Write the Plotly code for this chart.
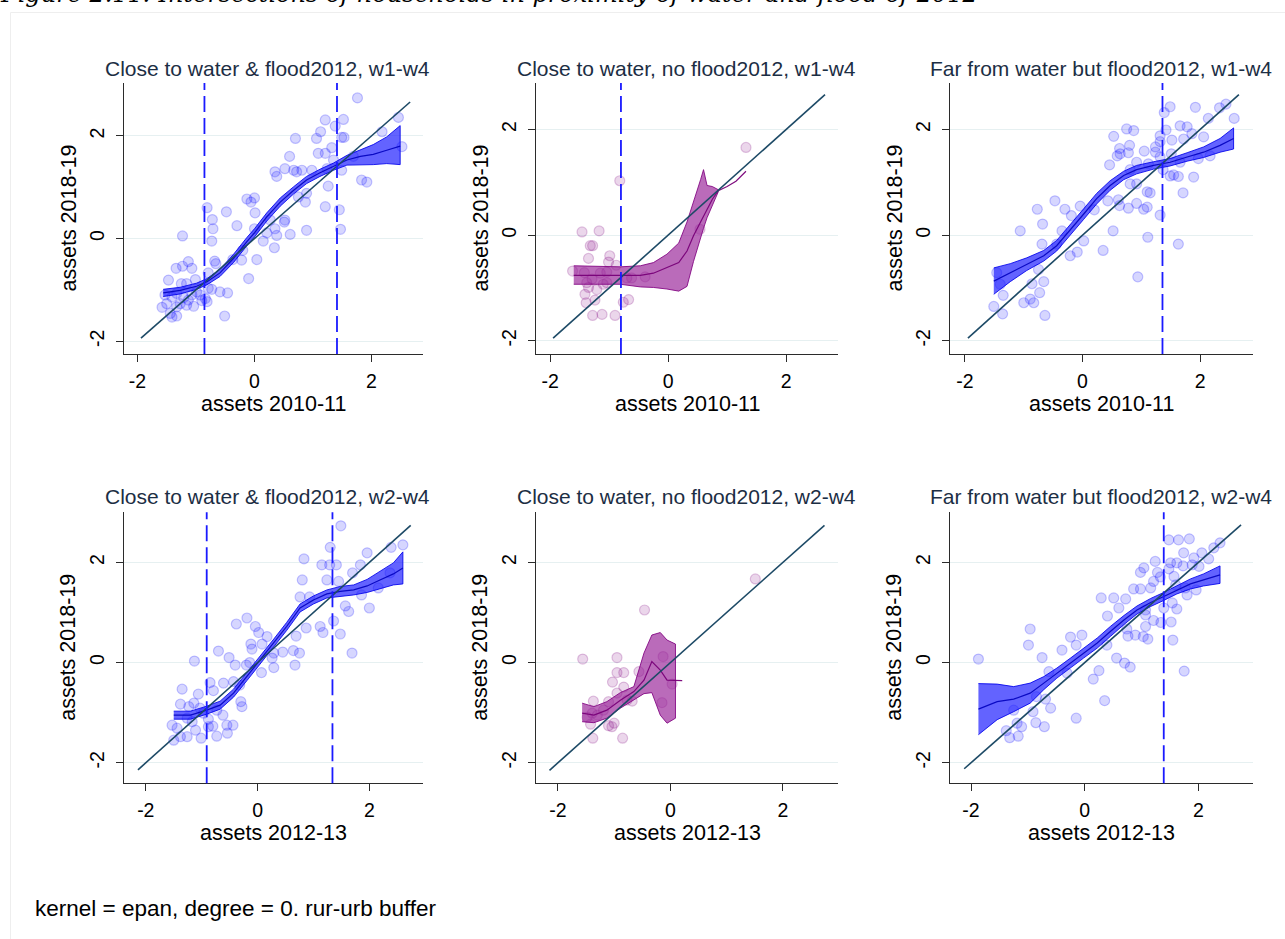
import plotly.graph_objects as go

W, H = 1285, 939

# ---------------- data ----------------
titles = ["Close to water & flood2012, w1-w4", "Close to water, no flood2012, w1-w4",
          "Far from water but flood2012, w1-w4", "Close to water & flood2012, w2-w4",
          "Close to water, no flood2012, w2-w4", "Far from water but flood2012, w2-w4"]
x_titles = ["assets 2010-11"] * 3 + ["assets 2012-13"] * 3
y_title = "assets 2018-19"
tick_vals = [-2, 0, 2]
tick_text = ["-2", "0", "2"]
note_text = "kernel = epan, degree = 0. rur-urb buffer"
caption_text = "Figure 2.11: Intersections of households in proximity of water and flood of 2012"

# panel 1
p1_x = [1.76, 1.21, 1.38, 1.52, 2.46, 1.13, 1.06, 0.70, 2.18, 1.49, 1.53, 0.60, 1.09, 1.21, 1.32, 1.35, 2.52, 1.69,
        0.35, 0.38, 0.52, 0.67, 0.72, 0.81, 0.98, 1.24, 1.49, 1.83, 1.92, 1.26, 1.21, 1.45, 1.47, 0.89, 0.87, 0.75,
        0.89, -0.13, 0.0, -0.06, 0.01, 0.0, -0.81, -0.72, -0.71, -0.73, -0.48, -0.30, 0.27, 0.38, 0.35, 0.52, 0.51,
        0.61, 0.15, 0.34, 0.21, 0.04, -0.10, -0.20, -0.22, -0.37, -0.68, -0.66, -1.23, -1.34, -1.23, -1.13, -1.07,
        -1.47, -1.25, -1.16, -1.01, -0.79, -1.53, -1.41, -1.33, -1.21, -1.07, -0.99, -0.84, -0.81, -0.73, -0.59,
        -0.46, -1.58, -1.44, -1.33, -1.50, -1.16, -1.04, -0.90, -0.51, -1.33, -1.41, -1.27, -1.13, -0.93, -0.79]
p1_y = [2.74, 2.31, 2.19, 2.32, 2.36, 2.08, 1.95, 1.95, 2.08, 1.97, 1.97, 1.60, 1.66, 1.66, 1.77, 1.53, 1.79, 1.60,
        1.30, 1.21, 1.36, 1.33, 1.30, 1.33, 1.33, 1.36, 1.33, 1.14, 1.10, 1.02, 0.62, 0.56, 0.18, 0.16, 0.71, 0.81,
        0.88, 0.77, 0.79, 0.71, 0.50, 0.19, 0.60, 0.37, 0.19, -0.05, 0.52, 0.25, 0.36, 0.06, 0.19, 0.36, 0.32,
        0.08, -0.05, -0.18, 0.11, -0.41, -0.78, -0.23, -0.42, -0.41, -0.44, -0.49, 0.05, -0.58, -0.54, -0.45, -0.58,
        -0.81, -0.88, -0.88, -0.80, -0.67, -1.10, -1.14, -1.07, -1.15, -1.10, -1.04, -1.17, -1.23, -0.99, -1.04,
        -1.06, -1.34, -1.46, -1.51, -1.27, -1.30, -1.32, -1.21, -1.51, -1.33, -1.53, -1.27, -1.20, -1.10, -0.97]
p1_band_x = [-1.56, -1.27, -0.99, -0.81, -0.59, -0.36, -0.13, 0.0, 0.21, 0.44, 0.67, 0.89, 1.12, 1.35, 1.58, 1.81,
             2.03, 2.26, 2.49]
p1_fit = [-1.06, -1.01, -0.93, -0.84, -0.67, -0.39, -0.06, 0.11, 0.42, 0.71, 0.94, 1.14, 1.28, 1.40, 1.53, 1.60,
          1.64, 1.72, 1.80]
p1_hi = [-0.99, -0.95, -0.87, -0.78, -0.60, -0.31, 0.02, 0.19, 0.50, 0.79, 1.01, 1.21, 1.35, 1.47, 1.62, 1.73,
         1.83, 1.98, 2.20]
p1_lo = [-1.13, -1.08, -0.99, -0.90, -0.74, -0.47, -0.14, 0.03, 0.34, 0.63, 0.87, 1.07, 1.21, 1.33, 1.43, 1.44,
         1.44, 1.46, 1.44]
p1_vlines = [-0.855, 1.41]
p1_diag = [-1.94, 2.66]

# panel 2
p2_x = [1.32, -0.82, 0.54, -1.46, -1.17, -1.32, -1.28, -0.99, -1.35, -1.01, -0.88, -1.62, -1.42, -1.15, -1.04,
        -0.70, -0.62, -0.39, -1.38, -1.35, -1.21, -1.10, -1.41, -1.39, -1.24, -0.76, -0.67, -1.28, -1.12, -0.90,
        -1.04, -1.29]
p2_y = [1.66, 1.03, 0.11, 0.06, 0.08, -0.20, -0.20, -0.39, -0.44, -0.51, -0.57, -0.68, -0.71, -0.72, -0.70,
        -0.81, -0.81, -0.79, -0.90, -0.99, -1.03, -0.93, -1.12, -1.28, -1.23, -1.27, -1.22, -1.52, -1.50, -1.52,
        -0.90, -0.83]
p2_band_x = [-1.60, -1.20, -0.81, -0.47, -0.25, -0.02, 0.18, 0.32, 0.43, 0.55, 0.60, 0.66, 0.75, 0.85]
p2_hi = [-0.58, -0.59, -0.60, -0.58, -0.52, -0.36, -0.15, 0.25, 0.62, 1.05, 1.24, 0.94, 0.92, 0.86]
p2_lo = [-0.93, -0.93, -0.93, -0.98, -0.99, -1.02, -1.06, -0.97, -0.50, -0.05, 0.13, 0.33, 0.55, 0.82]
p2_fit_x = [-1.60, -1.20, -0.81, -0.47, -0.25, -0.02, 0.18, 0.32, 0.43, 0.55, 0.66, 0.75, 0.85, 1.0, 1.15, 1.32]
p2_fit = [-0.76, -0.76, -0.77, -0.76, -0.72, -0.62, -0.52, -0.30, -0.01, 0.25, 0.50, 0.68, 0.84, 0.92, 1.02, 1.21]
p2_vlines = [-0.80]
p2_diag = [-1.95, 2.66]

# panel 3
p3_x = [1.49, 1.92, 2.44, 2.33, 1.39, 2.14, 2.58, 0.75, 0.87, 1.42, 1.66, 1.78, 1.86, 0.53, 1.32, 2.06, 1.52, 1.72,
        1.32, 0.80, 0.63, 1.24, 1.05, 1.24, 0.64, 0.59, 0.78, 0.92, 1.12, 1.32, 1.51, 1.66, 1.97, 2.17, 0.46, 0.81,
        1.37, 1.55, 1.49, 1.63, 1.89, 0.92, 0.81, 1.10, 1.15, 1.71, 0.43, 0.61, 0.63, 0.92, 0.78, 1.10, 1.04, 1.32,
        -0.47, -0.30, -0.19, -0.04, 0.20, -0.77, -0.68, -1.06, -0.35, 0.02, 0.52, 1.11, -0.09, 0.35, 1.63, -0.69,
        -0.75, -0.66, -0.86, -0.89, -1.00, -0.83, -0.73, 0.94, -1.35, -1.51, -1.36, -0.64, -1.46, -1.40, -0.21,
        -0.44]
p3_y = [2.43, 2.42, 2.48, 2.41, 2.32, 2.21, 2.21, 2.01, 1.98, 1.99, 2.07, 2.05, 1.92, 1.87, 1.88, 1.86, 1.80, 1.82,
        1.77, 1.70, 1.64, 1.67, 1.59, 1.57, 1.54, 1.50, 1.56, 1.38, 1.35, 1.48, 1.54, 1.38, 1.45, 1.50, 1.33, 1.24,
        1.24, 1.14, 1.12, 1.11, 1.10, 0.97, 0.97, 0.82, 0.80, 0.80, 0.65, 0.67, 0.56, 0.60, 0.51, 0.53, 0.49, 0.38,
        0.65, 0.49, 0.37, 0.55, 0.48, 0.49, 0.21, 0.08, 0.08, -0.11, 0.08, -0.04, -0.32, -0.29, -0.17, -0.17,
        -0.65, -0.88, -0.92, -1.21, -1.28, -1.28, -1.09, -0.79, -1.14, -1.35, -1.49, -1.52, -0.71, -0.93, -0.39,
        -0.17]
p3_band_x = [-1.51, -1.23, -0.95, -0.66, -0.44, -0.21, 0.02, 0.24, 0.47, 0.70, 0.92, 1.21, 1.49, 1.78, 2.06, 2.34,
             2.57]
p3_fit = [-0.87, -0.71, -0.55, -0.39, -0.20, 0.11, 0.40, 0.69, 0.94, 1.13, 1.24, 1.32, 1.38, 1.48, 1.57, 1.70, 1.83]
p3_hi = [-0.62, -0.54, -0.43, -0.29, -0.10, 0.21, 0.50, 0.79, 1.03, 1.21, 1.32, 1.39, 1.45, 1.56, 1.67, 1.83, 2.03]
p3_lo = [-1.12, -0.88, -0.67, -0.49, -0.30, 0.01, 0.30, 0.59, 0.85, 1.05, 1.16, 1.25, 1.31, 1.40, 1.47, 1.57, 1.63]
p3_vlines = [1.36]
p3_diag = [-1.95, 2.66]

# panel 4
p4_x = [1.49, 1.30, 2.60, 2.39, 1.96, 0.83, 1.15, 1.29, 1.41, 1.84, 1.70, 2.37, 0.80, 1.24, 1.45, 2.16, 0.76, 0.93,
        1.86, 1.57, 1.63, 2.00, -0.19, -0.38, -0.04, 0.02, 0.17, 0.08, -0.12, -0.10, 1.12, 1.17, 0.87, 1.36, 1.48,
        1.69, 0.69, 0.64, 0.75, 0.67, 0.29, 0.45, 0.26, 0.29, 0.07, -0.70, -0.51, -0.40, -0.20, -0.14, -1.13,
        -0.61, -0.43, -0.32, -0.30, -0.28, -0.85, -0.79, -1.06, -1.35, -1.38, -1.23, -1.14, -1.03, -0.73, -0.62,
        -1.53, -1.44, -1.38, -1.26, -1.11, -1.01, -0.88, -0.80, -0.73, -0.55, -0.54, -0.44, -1.50, -1.17, -1.26,
        -0.88, -0.97]
p4_y = [2.73, 2.30, 2.35, 2.30, 2.19, 2.07, 1.95, 1.95, 1.95, 1.95, 1.79, 1.79, 1.65, 1.65, 1.62, 1.49, 1.31, 1.31,
        1.35, 1.13, 1.02, 1.09, 0.89, 0.77, 0.72, 0.60, 0.52, 0.37, 0.37, 0.27, 0.72, 0.60, 0.69, 0.83, 0.57,
        0.19, 0.53, 0.24, 0.19, -0.05, 0.19, 0.21, 0.09, -0.10, -0.20, 0.23, 0.10, -0.05, -0.05, 0.0, 0.03,
        -0.41, -0.38, -0.45, -0.78, -0.88, -0.40, -0.56, -0.63, -0.53, -0.83, -0.88, -0.81, -0.91, -0.95, -1.05,
        -1.25, -1.31, -1.48, -1.48, -1.35, -1.51, -1.28, -1.27, -1.47, -1.25, -1.41, -1.25, -1.55, -1.18, -1.11,
        -1.13, -1.01]
p4_band_x = [-1.50, -1.20, -0.91, -0.67, -0.43, -0.19, 0.05, 0.29, 0.52, 0.76, 1.00, 1.24, 1.48, 1.72, 1.96, 2.19,
             2.43, 2.60]
p4_fit = [-1.05, -1.05, -0.95, -0.85, -0.61, -0.28, 0.05, 0.39, 0.72, 1.09, 1.25, 1.37, 1.42, 1.45, 1.53, 1.65,
          1.77, 1.89]
p4_hi = [-0.97, -0.97, -0.87, -0.77, -0.53, -0.20, 0.13, 0.47, 0.80, 1.17, 1.33, 1.45, 1.52, 1.55, 1.66, 1.82,
         1.99, 2.21]
p4_lo = [-1.13, -1.13, -1.03, -0.93, -0.69, -0.36, -0.03, 0.31, 0.64, 1.01, 1.17, 1.29, 1.32, 1.35, 1.40, 1.48,
         1.55, 1.57]
p4_vlines = [-0.91, 1.34]
p4_diag = [-2.14, 2.74]

# panel 5
p5_x = [1.51, -0.46, -1.56, -0.95, -0.13, -0.95, -0.83, -1.03, -0.83, -0.56, 0.03, -1.37, -1.10, -0.68, -0.15,
        -1.48, -1.39, -1.30, -1.42, -1.10, -1.04, -1.00, -1.38, -0.85, -1.19, -0.77, -0.95]
p5_y = [1.67, 1.05, 0.07, 0.10, 0.12, -0.20, -0.20, -0.39, -0.49, -0.18, -0.43, -0.77, -0.78, -0.77, -0.80,
        -1.09, -1.01, -1.05, -1.23, -1.26, -1.28, -1.21, -1.51, -1.51, -0.95, -0.75, -0.61]
p5_band_x = [-1.57, -1.36, -1.13, -0.89, -0.65, -0.47, -0.33, -0.18, -0.06, 0.09]
p5_hi = [-0.81, -0.88, -0.78, -0.60, -0.48, 0.19, 0.55, 0.60, 0.45, 0.37]
p5_lo = [-1.18, -1.20, -1.11, -0.91, -0.75, -0.62, -0.60, -1.05, -1.21, -1.11]
p5_fit_x = [-1.57, -1.36, -1.13, -0.89, -0.65, -0.47, -0.33, -0.18, -0.06, 0.09, 0.21]
p5_fit = [-1.01, -1.05, -0.95, -0.75, -0.58, -0.35, 0.02, -0.15, -0.35, -0.35, -0.36]
p5_vlines = []
p5_diag = [-2.15, 2.74]

# panel 6
p6_x = [1.48, 1.65, 1.84, 2.38, 2.27, 2.06, 1.74, 1.92, 2.18, 1.24, 1.51, 1.62, 1.89, 2.01, 1.04, 0.98, 1.28, 1.48,
        1.73, 1.33, 1.57, 1.21, 0.86, 0.98, 1.16, 1.60, 1.77, 1.96, 0.29, 0.51, 0.72, 1.80, 0.60, 1.07, 1.39, 1.54,
        1.62, 0.40, 1.07, 1.21, 1.34, 1.52, 1.07, 0.74, 0.89, 0.76, 1.03, 1.11, 1.55, -0.96, -0.99, -0.25, -0.05,
        -0.15, -0.40, 0.39, -0.75, -1.87, 0.56, 0.70, 0.80, 0.25, 0.15, 1.75, -0.31, -0.63, -0.69, -0.85, 0.35,
        -0.60, -0.91, -1.25, -0.15, -0.86, -0.71, -1.11, -1.19, -1.38, -1.32, -1.17]
p6_y = [2.45, 2.45, 2.47, 2.39, 2.29, 2.19, 2.19, 2.09, 2.07, 2.02, 1.99, 1.99, 1.95, 1.92, 1.89, 1.80, 1.80, 1.87,
        1.93, 1.71, 1.72, 1.62, 1.47, 1.47, 1.49, 1.55, 1.49, 1.45, 1.29, 1.29, 1.27, 1.35, 1.09, 1.05, 1.09, 1.19,
        1.07, 0.93, 0.95, 0.84, 0.80, 0.81, 0.72, 0.67, 0.55, 0.53, 0.52, 0.47, 0.45, 0.67, 0.35, 0.51, 0.55,
        0.35, 0.25, 0.35, 0.10, 0.07, 0.09, -0.01, -0.09, -0.16, -0.33, -0.17, -0.21, -0.18, -0.73, -0.68, -0.76,
        -0.91, -0.98, -0.95, -1.11, -1.20, -1.28, -1.28, -1.21, -1.36, -1.50, -1.47]
p6_band_x = [-1.87, -1.54, -1.25, -0.96, -0.72, -0.49, -0.25, -0.02, 0.22, 0.45, 0.69, 0.92, 1.16, 1.39, 1.62, 1.86,
             2.09, 2.38]
p6_fit = [-0.93, -0.78, -0.73, -0.61, -0.41, -0.21, -0.01, 0.19, 0.39, 0.62, 0.85, 1.05, 1.20, 1.32, 1.45, 1.57,
          1.65, 1.75]
p6_hi = [-0.42, -0.43, -0.48, -0.41, -0.28, -0.11, 0.09, 0.29, 0.49, 0.72, 0.94, 1.13, 1.28, 1.40, 1.53, 1.67,
         1.77, 1.93]
p6_lo = [-1.44, -1.14, -0.98, -0.81, -0.54, -0.31, -0.11, 0.09, 0.29, 0.52, 0.76, 0.97, 1.12, 1.24, 1.37, 1.47,
         1.53, 1.58]
p6_vlines = [1.39]
p6_diag = [-2.12, 2.75]

# ---------------- layout geometry (pixels) ----------------
col_px = [(124, 423), (536, 838), (950, 1253)]
row_px = [(83, 354), (512.3, 783.3)]
x_ranges = [[-2.23, 2.88], [-2.24, 2.88], [-2.255, 2.90], [-2.39, 2.96], [-2.39, 2.98], [-2.37, 2.96]]
y_ranges = [[-2.25, 3.03], [-2.25, 2.88], [-2.25, 2.88], [-2.41, 3.0], [-2.41, 3.0], [-2.41, 3.0]]
title_cx = [267.5, 686, 1101, 267.5, 686, 1101]

BLUE_PT = dict(color="rgba(0,0,255,0.16)", line=dict(color="rgba(0,0,255,0.22)", width=1.2))
PURP_PT = dict(color="rgba(128,0,128,0.16)", line=dict(color="rgba(128,0,128,0.22)", width=1.2))
BLUE_BAND = ("rgba(25,25,255,0.68)", "rgba(0,0,235,0.85)", "rgba(0,0,190,0.9)")
PURP_BAND = ("rgba(150,30,150,0.66)", "rgba(128,0,128,0.85)", "rgba(120,0,120,0.95)")
DIAG_COLOR = "#1d4a66"
TITLE_COLOR = "#1c2e44"
FONT = "Arial, Liberation Sans, sans-serif"

panels = [
    dict(x=p1_x, y=p1_y, bx=p1_band_x, hi=p1_hi, lo=p1_lo, fx=p1_band_x, fit=p1_fit, v=p1_vlines, d=p1_diag, pt=BLUE_PT, band=BLUE_BAND),
    dict(x=p2_x, y=p2_y, bx=p2_band_x, hi=p2_hi, lo=p2_lo, fx=p2_fit_x, fit=p2_fit, v=p2_vlines, d=p2_diag, pt=PURP_PT, band=PURP_BAND),
    dict(x=p3_x, y=p3_y, bx=p3_band_x, hi=p3_hi, lo=p3_lo, fx=p3_band_x, fit=p3_fit, v=p3_vlines, d=p3_diag, pt=BLUE_PT, band=BLUE_BAND),
    dict(x=p4_x, y=p4_y, bx=p4_band_x, hi=p4_hi, lo=p4_lo, fx=p4_band_x, fit=p4_fit, v=p4_vlines, d=p4_diag, pt=BLUE_PT, band=BLUE_BAND),
    dict(x=p5_x, y=p5_y, bx=p5_band_x, hi=p5_hi, lo=p5_lo, fx=p5_fit_x, fit=p5_fit, v=p5_vlines, d=p5_diag, pt=PURP_PT, band=PURP_BAND),
    dict(x=p6_x, y=p6_y, bx=p6_band_x, hi=p6_hi, lo=p6_lo, fx=p6_band_x, fit=p6_fit, v=p6_vlines, d=p6_diag, pt=BLUE_PT, band=BLUE_BAND),
]

fig = go.Figure()
layout = dict(width=W, height=H, margin=dict(l=0, r=0, t=0, b=0), paper_bgcolor="white",
              plot_bgcolor="white", showlegend=False, font=dict(family=FONT, color="black"))
annotations = []
shapes = []

for i, p in enumerate(panels):
    r, c = divmod(i, 3)
    xa = "x" if i == 0 else f"x{i+1}"
    ya = "y" if i == 0 else f"y{i+1}"
    x0p, x1p = col_px[c]
    y0p, y1p = row_px[r]
    common_ax = dict(showline=True, linecolor="#2b2b2b", linewidth=1.3, ticks="outside", ticklen=7,
                     tickwidth=1.2, tickcolor="#2b2b2b", tickvals=tick_vals, ticktext=tick_text,
                     tickfont=dict(size=19.5, color="black", family=FONT), zeroline=False, fixedrange=True)
    layout["xaxis" if i == 0 else f"xaxis{i+1}"] = dict(
        common_ax, domain=[x0p / W, x1p / W], range=x_ranges[i], anchor=ya, showgrid=False,
        ticklabelstandoff=2)
    layout["yaxis" if i == 0 else f"yaxis{i+1}"] = dict(
        common_ax, domain=[1 - y1p / H, 1 - y0p / H], range=y_ranges[i], anchor=xa, showgrid=True,
        gridcolor="#e6f0f1", gridwidth=1.3, tickangle=-90, ticklabelstandoff=4)

    # scatter points
    fig.add_trace(go.Scatter(x=p["x"], y=p["y"], mode="markers", xaxis=xa, yaxis=ya,
                             marker=dict(size=10, symbol="circle", **p["pt"]), hoverinfo="skip"))
    # CI band
    fill, edge, mid = p["band"]
    fig.add_trace(go.Scatter(x=p["bx"] + p["bx"][::-1], y=p["hi"] + p["lo"][::-1], mode="lines",
                             fill="toself", fillcolor=fill, line=dict(color=edge, width=1),
                             xaxis=xa, yaxis=ya, hoverinfo="skip"))
    # fitted line
    fig.add_trace(go.Scatter(x=p["fx"], y=p["fit"], mode="lines", line=dict(color=mid, width=1.2),
                             xaxis=xa, yaxis=ya, hoverinfo="skip"))
    # 45 degree line
    fig.add_trace(go.Scatter(x=p["d"], y=p["d"], mode="lines", line=dict(color=DIAG_COLOR, width=1.6),
                             xaxis=xa, yaxis=ya, hoverinfo="skip"))
    # vertical dashed lines
    for v in p["v"]:
        shapes.append(dict(type="line", xref=xa, yref=f"{ya} domain", x0=v, x1=v, y0=0, y1=1,
                           line=dict(color="#1a1aff", width=1.8, dash="16px,6px")))

    cx = (x0p + x1p) / 2
    # panel title
    title_y = 68 if r == 0 else 497
    annotations.append(dict(text=titles[i], xref="paper", yref="paper", x=title_cx[i] / W, y=1 - title_y / H,
                            xanchor="center", yanchor="middle", showarrow=False,
                            font=dict(size=21, color=TITLE_COLOR, family=FONT)))
    # x-axis title
    annotations.append(dict(text=x_titles[i], xref="paper", yref="paper", x=cx / W, y=1 - (y1p + 50) / H,
                            xanchor="center", yanchor="middle", showarrow=False,
                            font=dict(size=21.5, color="black", family=FONT)))
    # y-axis title
    annotations.append(dict(text=y_title, xref="paper", yref="paper", x=(x0p - 56) / W,
                            y=1 - ((y0p + y1p) / 2) / H, xanchor="center", yanchor="middle",
                            textangle=-90, showarrow=False,
                            font=dict(size=21.5, color="black", family=FONT)))

# note and caption
annotations.append(dict(text=note_text, xref="paper", yref="paper", x=33 / W, y=1 - 908 / H,
                        xanchor="left", yanchor="middle", showarrow=False,
                        font=dict(size=22.5, color="black", family=FONT)))
annotations.append(dict(text="<i>" + caption_text + "</i>", xref="paper", yref="paper", x=-2 / W, y=1 + 6 / H,
                        xanchor="left", yanchor="middle", showarrow=False,
                        font=dict(size=24, color="black", family="DejaVu Serif, serif")))
# faint frame
shapes.append(dict(type="rect", xref="paper", yref="paper", x0=10.5 / W, x1=1.01, y0=-0.01, y1=1 - 12.5 / H,
                   line=dict(color="#eeeeee", width=1), fillcolor="rgba(0,0,0,0)", layer="below"))

layout["annotations"] = annotations
layout["shapes"] = shapes
fig.update_layout(**layout)

fig.write_html("out.html", config={"displayModeBar": False},
               post_script="document.body.style.margin='0';document.body.style.overflow='hidden';")
